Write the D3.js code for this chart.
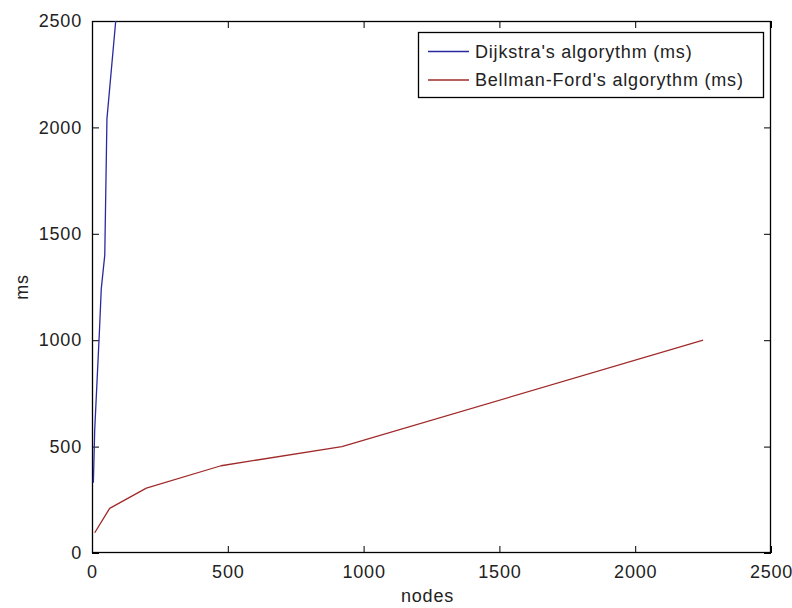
<!DOCTYPE html>
<html>
<head>
<meta charset="utf-8">
<script src="https://cdn.jsdelivr.net/npm/d3@7"></script>
<style>
  html, body { margin: 0; padding: 0; background: #fff; }
  svg { display: block; }
  text { font-family: "Liberation Sans", Arial, Helvetica, sans-serif; fill: #222; }
</style>
</head>
<body>
<svg id="chart" width="792" height="608"></svg>
<script>
// ---- data ----
const dijkstraNodes = [5, 10, 28, 34, 47, 55, 100];
const dijkstraMs    = [330, 580, 1060, 1240, 1400, 2040, 2680];
const bellmanNodes  = [10, 65, 200, 475, 920, 2250];
const bellmanMs     = [95, 210, 305, 410, 500, 1000];
const xTicks = [0, 500, 1000, 1500, 2000, 2500];
const yTicks = [0, 500, 1000, 1500, 2000, 2500];
const seriesNames = ["Dijkstra's algorythm (ms)", "Bellman-Ford's algorythm (ms)"];
const seriesColors = ["#2a2aa0", "#a02a2a"];
const xLabel = "nodes";
const yLabel = "ms";

// ---- layout ----
const L = 92, R = 771, T = 21, B = 553;
const svg = d3.select("#chart");
const x = d3.scaleLinear().domain([0, 2500]).range([L, R]);
const y = d3.scaleLinear().domain([0, 2500]).range([B, T]);
const TK = 7;
const fontSize = 18;

svg.append("defs").append("clipPath").attr("id", "clip")
  .append("rect").attr("x", L).attr("y", T).attr("width", R - L).attr("height", B - T);

// axes with inward ticks
function styleAxis(g, showLabels) {
  g.select(".domain").remove();
  g.selectAll(".tick line").attr("stroke", "#000").attr("stroke-width", 1);
  g.selectAll(".tick text")
    .style("font-size", fontSize + "px")
    .style("letter-spacing", "0.8px")
    .attr("fill", "#222")
    .attr("opacity", showLabels ? 1 : 0);
}
const gB = svg.append("g").attr("transform", `translate(0,${B})`)
  .call(d3.axisBottom(x).tickValues(xTicks).tickFormat(d3.format("d")).tickSize(-TK).tickPadding(12));
styleAxis(gB, true);
const gT = svg.append("g").attr("transform", `translate(0,${T})`)
  .call(d3.axisTop(x).tickValues(xTicks).tickFormat("").tickSize(-TK));
styleAxis(gT, false);
const gL = svg.append("g").attr("transform", `translate(${L},0)`)
  .call(d3.axisLeft(y).tickValues(yTicks).tickFormat(d3.format("d")).tickSize(-TK).tickPadding(10));
styleAxis(gL, true);
const gR = svg.append("g").attr("transform", `translate(${R},0)`)
  .call(d3.axisRight(y).tickValues(yTicks).tickFormat("").tickSize(-TK));
styleAxis(gR, false);

// box
svg.append("rect").attr("x", L + 0.5).attr("y", T + 0.5)
  .attr("width", R - L - 1).attr("height", B - T - 1)
  .attr("fill", "none").attr("stroke", "#000").attr("stroke-width", 1.3);

// lines
const line = d3.line().x(d => x(d[0])).y(d => y(d[1]));
const series = [
  d3.zip(dijkstraNodes, dijkstraMs),
  d3.zip(bellmanNodes, bellmanMs)
];
svg.append("g").attr("clip-path", "url(#clip)")
  .selectAll("path").data(series).join("path")
  .attr("d", line)
  .attr("fill", "none")
  .attr("stroke", (d, i) => seriesColors[i])
  .attr("stroke-width", 1.3)
  .attr("stroke-linejoin", "round");

// axis labels
svg.append("text").attr("x", (L + R) / 2 - 4).attr("y", 602)
  .attr("text-anchor", "middle").style("font-size", fontSize + "px").style("letter-spacing", "0.8px")
  .text(xLabel);
svg.append("text").attr("transform", `translate(28,${(T + B) / 2}) rotate(-90)`)
  .attr("text-anchor", "middle").style("font-size", fontSize + "px").style("letter-spacing", "0.8px")
  .text(yLabel);

// legend
const legX0 = 418, legX1 = 763, legY0 = 32, legY1 = 97;
svg.append("rect").attr("x", legX0 + 0.5).attr("y", legY0 + 0.5)
  .attr("width", legX1 - legX0).attr("height", legY1 - legY0)
  .attr("fill", "#fff").attr("stroke", "#000").attr("stroke-width", 1.3);
const rowY = [51.5, 80];
seriesNames.forEach((name, i) => {
  svg.append("line").attr("x1", 428).attr("x2", 469)
    .attr("y1", rowY[i]).attr("y2", rowY[i])
    .attr("stroke", seriesColors[i]).attr("stroke-width", 1.3);
  svg.append("text").attr("x", 475).attr("y", rowY[i]).attr("dy", "0.35em")
    .style("font-size", fontSize + "px").style("letter-spacing", "0.8px")
    .text(name);
});
</script>
</body>
</html>
